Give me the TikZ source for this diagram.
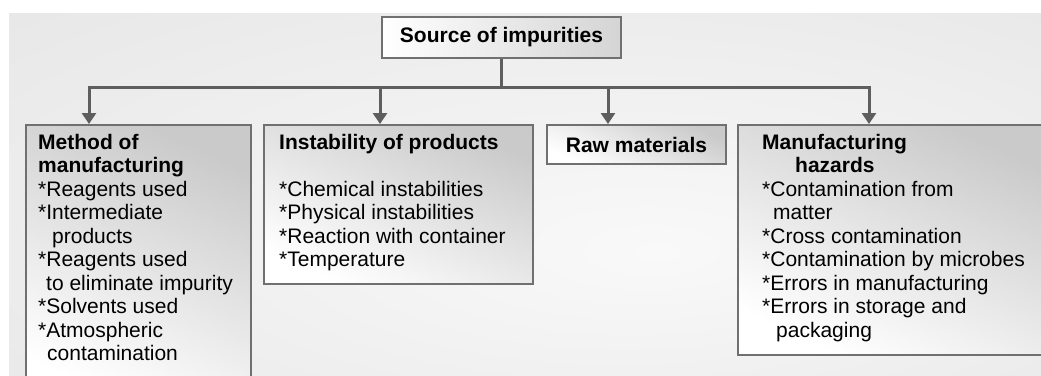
\documentclass[tikz,border=0pt]{standalone}
\usepackage{fontspec}
\setmainfont{Liberation Sans}
\usetikzlibrary{arrows.meta,calc}
\definecolor{linec}{HTML}{5E5E5E}
\definecolor{boxline}{HTML}{707070}
\definecolor{boxtop}{HTML}{CACACA}
\definecolor{bgin}{HTML}{F9F9F9}
\definecolor{bgout}{HTML}{E2E2E2}
\pgfdeclareradialshading{bgrad}{\pgfpoint{6bp}{-6bp}}{color(0bp)=(bgin); color(50bp)=(bgout)}
\tikzset{
 box/.style={draw=boxline, line width=2pt, anchor=north west, inner sep=0pt, top color=boxtop, bottom color=white, shading angle=-25},
 txt/.style={anchor=north west, inner sep=0pt, align=left, font=\fontsize{21}{23.5}\selectfont},
 hd/.style={font=\fontsize{21}{23.5}\selectfont\bfseries},
 conn/.style={draw=linec, line width=3pt, line join=miter},
 arr/.style={conn, -{Triangle[width=14pt,length=11pt]}},
}
\begin{document}
\begin{tikzpicture}[x=1pt,y=-1pt]
\clip (0,0) rectangle (1041,375);
\fill[white] (0,0) rectangle (1041,375);
\shade[shading=bgrad] (9,13) rectangle (1060,400);

\node[box, hd, minimum width=239pt, minimum height=41pt, left color=white, right color=boxtop!80] (src) at (381,16) {Source of impurities};
\node[box, minimum width=225pt, minimum height=280pt] (m1) at (25,124) {};
\node[box, minimum width=269pt, minimum height=159pt] (m2) at (263,124) {};
\node[box, hd, minimum width=179pt, minimum height=39pt] (m3) at (546,124) {Raw materials};
\node[box, minimum width=310pt, minimum height=230pt] (m4) at (737,124) {};

\node[txt] (t1) at (38,134) {\textbf{Method of}\\ \textbf{manufacturing}\\ *Reagents used\\ *Intermediate\\ \hspace*{14pt}products\\ *Reagents used\\ \hspace*{8pt}to eliminate impurity\\ *Solvents used\\ *Atmospheric\\ \hspace*{9pt}contamination};
\node[txt] (t2) at (279,134) {\textbf{Instability of products}\\[23.5pt] *Chemical instabilities\\ *Physical instabilities\\ *Reaction with container\\ *Temperature};
\node[txt] (t4) at (762,134) {\textbf{Manufacturing}\\ \hspace*{33pt}\textbf{hazards}\\ *Contamination from\\ \hspace*{11pt}matter\\ *Cross contamination\\ *Contamination by microbes\\ *Errors in manufacturing\\ *Errors in storage and\\ \hspace*{14pt}packaging};

\coordinate (j) at ($(src.south)+(0,28)$);
\draw[conn] (src.south) -- (j);
\draw[arr] (j) -| ([xshift=64pt]m1.north west);
\draw[arr] (j) -| ([xshift=117pt]m2.north west);
\draw[arr] (j) -| ([xshift=62pt]m3.north west);
\draw[arr] (j) -| ([xshift=132pt]m4.north west);
\end{tikzpicture}
\end{document}
